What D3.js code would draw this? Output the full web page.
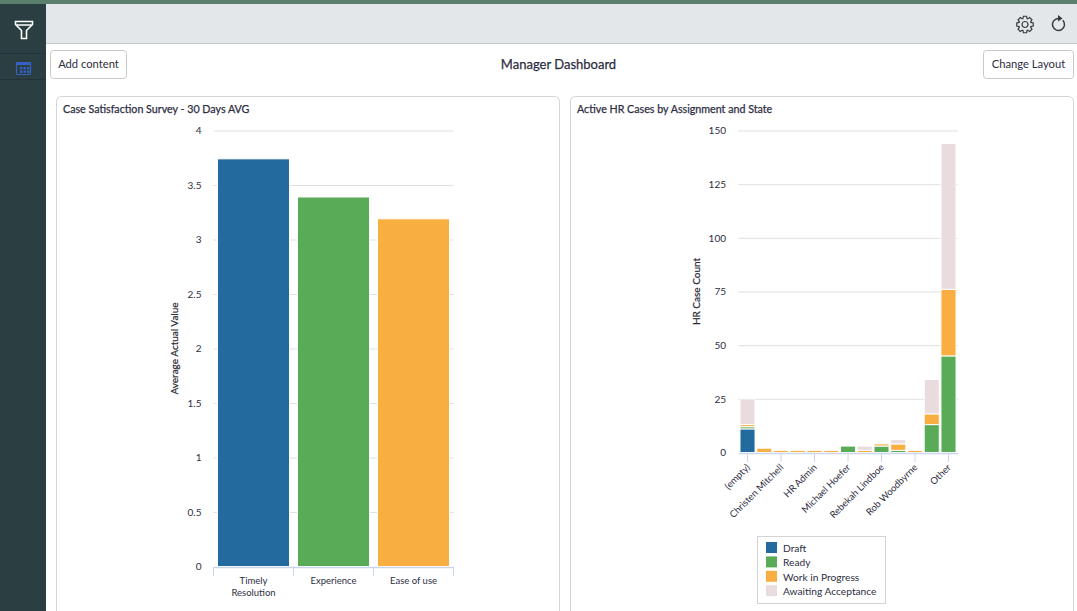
<!DOCTYPE html>
<html>
<head>
<meta charset="utf-8">
<script src="https://cdn.jsdelivr.net/npm/d3@7"></script>
<style>
  html, body { margin: 0; padding: 0; background: #fff; overflow: hidden; }
  text { font-family: Lato, sans-serif; fill: #2e2e42; }
  .axis .domain { stroke: #ccd6eb; }
  .axis line { stroke: #ccd6eb; }
  .grid line { stroke: #e0e0e0; }
  .grid .domain { display: none; }
</style>
</head>
<body>
<div id="chart"></div>
<script>
// Data
const surveyCategories = ["Timely Resolution", "Experience", "Ease of use"];
const surveyValues = [3.74, 3.39, 3.19];
const surveyTicks = [0, 0.5, 1, 1.5, 2, 2.5, 3, 3.5, 4];

const states = ["Draft", "Ready", "Work in Progress", "Awaiting Acceptance"];
const stateColors = ["#236a9e", "#5aab58", "#f9ae42", "#e8dcde"];
// only every other assignee gets a label on the axis
const assignees = ["(empty)", "", "Christen Mitchell", "", "HR Admin", "", "Michael Hoefer", "", "Rebekah Lindboe", "", "Rob Woodbyrne", "", "Other"];
const draftCounts = [11, 0, 0, 0, 0, 0, 0, 0, 0, 0, 0, 0, 0];
const readyCounts = [1, 0, 0, 0, 0, 0, 3, 0, 3, 1, 0, 13, 45];
const progressCounts = [1, 2, 1, 1, 1, 1, 0, 1, 1, 3, 1, 5, 31];
const awaitingCounts = [12, 0, 0, 0, 0, 0, 0, 2, 0, 2, 0, 16, 68];
const caseTicks = [0, 25, 50, 75, 100, 125, 150];

const svg = d3.select("#chart").append("svg").attr("width", 1077).attr("height", 611).style("display", "block");

// Page chrome
const rect = (x, y, w, h, fill, stroke, r) =>
  svg.append("rect").attr("x", x).attr("y", y).attr("width", w).attr("height", h)
    .attr("fill", fill).attr("stroke", stroke || "none").attr("rx", r || 0);

rect(0, 0, 1077, 4, "#5b7f6f");
rect(46, 4, 1031, 39, "#e4e7ea");
rect(46, 43, 1031, 1, "#c8c8c8");
rect(0, 4, 46, 607, "#2b3f42");
rect(0, 53, 46, 1, "#22343a");
rect(0, 79, 46, 1, "#22343a");

const button = (x, w, label) => {
  rect(x + 0.5, 50.5, w, 28, "#fff", "#c8c8c8", 3);
  svg.append("text").attr("x", x + w / 2 + 0.5).attr("y", 68).attr("text-anchor", "middle")
    .attr("font-size", 11.2).text(label);
};
button(50, 76, "Add content");
button(983, 90, "Change Layout");
svg.append("text").attr("x", 558.5).attr("y", 69).attr("text-anchor", "middle")
  .attr("font-size", 13).attr("stroke", "#2e2e42").attr("stroke-width", 0.25).text("Manager Dashboard");

const panel = (x, label) => {
  rect(x + 0.5, 96.5, 503, 540, "#fff", "#d4d4d4", 5);
  svg.append("text").attr("x", x + 7).attr("y", 113).attr("font-size", 10.7)
    .attr("stroke", "#2e2e42").attr("stroke-width", 0.25).text(label);
};
panel(56, "Case Satisfaction Survey - 30 Days AVG");
panel(570, "Active HR Cases by Assignment and State");

// Icons
svg.append("path").attr("d", "M15.5 21.5h17v3l-6 6v8h-5v-8l-6-6z M16 25h16").attr("fill", "none")
  .attr("stroke", "#fff").attr("stroke-width", 1.6);
svg.append("rect").attr("x", 16.5).attr("y", 62.5).attr("width", 14).attr("height", 12).attr("rx", 1)
  .attr("fill", "none").attr("stroke", "#3560c4").attr("stroke-width", 1.2);
rect(16, 62, 15, 3, "#3560c4");
[0, 1, 2].forEach((c) => [0, 1].forEach((r) => rect(20 + c * 3.5, 67 + r * 3.5, 2.4, 2.4, "#3560c4")));
const gear = svg.append("g").attr("transform", "translate(1025,24.5)").attr("fill", "none").attr("stroke", "#333a40").attr("stroke-width", 1.2);
gear.append("circle").attr("r", 3);
gear.append("path").attr("d", d3.range(8).map((i) => {
  const p = (a, r) => [(Math.cos(a) * r).toFixed(2), (Math.sin(a) * r).toFixed(2)].join(",");
  const a = (i * Math.PI) / 4, s = Math.PI / 10;
  return (i ? "L" : "M") + p(a - s * 1.1, 6.2) + "L" + p(a - s * 0.6, 8.4) + "L" + p(a + s * 0.6, 8.4) + "L" + p(a + s * 1.1, 6.2);
}).join("") + "Z");
svg.append("path").attr("d", d3.arc()({ innerRadius: 6, outerRadius: 6, startAngle: 0.8, endAngle: 6.2 }))
  .attr("transform", "translate(1058.5,24.5)").attr("fill", "none").attr("stroke", "#333a40").attr("stroke-width", 1.5);
svg.append("path").attr("d", "M1058 15l4.5 3.5-4.5 3z").attr("fill", "#333a40");

// Shared axis drawing
const drawYAxis = (yScale, ticks, x0, x1, title, titleX, format) => {
  const grid = svg.append("g").attr("class", "grid").attr("transform", `translate(${x0},0)`)
    .call(d3.axisLeft(yScale).tickValues(ticks.filter((d) => d > 0)).tickSize(-(x1 - x0)).tickFormat(""));
  grid.selectAll("line").attr("stroke-width", 1);
  const yAxis = svg.append("g").attr("transform", `translate(${x0 - 12},0)`)
    .call(d3.axisLeft(yScale).tickValues(ticks).tickSize(0).tickPadding(0).tickFormat(format));
  yAxis.select(".domain").remove();
  yAxis.selectAll("text").attr("font-size", 10).style("font-family", "Lato, sans-serif");
  const cy = (yScale.range()[0] + yScale.range()[1]) / 2;
  svg.append("text").attr("transform", `translate(${titleX},${cy}) rotate(-90)`)
    .attr("text-anchor", "middle").attr("font-size", 10).attr("stroke", "#1a1a1a").attr("stroke-width", 0.2).text(title);
};

// Left chart
const surveyY = d3.scaleLinear().domain([0, 4]).range([566.5, 130.5]);
const surveyX = d3.scaleBand().domain(surveyCategories).range([213.5, 453.5]).paddingInner(0.1).paddingOuter(0.05);
drawYAxis(surveyY, surveyTicks, 213.5, 453.5, "Average Actual Value", 178, d3.format("~g"));

svg.append("g").selectAll("rect").data(surveyValues).join("rect")
  .attr("x", (d, i) => surveyX(surveyCategories[i]))
  .attr("y", (d) => surveyY(d))
  .attr("width", surveyX.bandwidth())
  .attr("height", (d) => surveyY(0) - surveyY(d))
  .attr("fill", (d, i) => stateColors[i])
  .attr("stroke", "#fff");

const surveyAxis = svg.append("g").attr("class", "axis").attr("transform", "translate(0,567)")
  .call(d3.axisBottom(surveyX).tickSize(0).tickSizeOuter(0).tickFormat(""));
surveyAxis.select(".domain").attr("stroke-width", 1.5);
// ticks sit on the band edges
surveyAxis.selectAll(".edge").data(d3.range(surveyCategories.length + 1)).join("line")
  .attr("class", "edge")
  .attr("x1", (i) => 213.5 + i * surveyX.step()).attr("x2", (i) => 213.5 + i * surveyX.step())
  .attr("y1", 0).attr("y2", 9);
surveyCategories.forEach((name, i) => {
  const t = svg.append("text").attr("text-anchor", "middle").attr("font-size", 9.5)
    .attr("transform", `translate(${surveyX(name) + surveyX.bandwidth() / 2},584)`);
  (name === "Timely Resolution" ? ["Timely", "Resolution"] : [name]).forEach((line, j) =>
    t.append("tspan").attr("x", 0).attr("dy", j ? 12 : 0).text(line));
});

// Right chart
const caseY = d3.scaleLinear().domain([0, 150]).range([452.5, 130.5]);
const caseX = d3.scaleBand().domain(d3.range(assignees.length)).range([738.3, 957.7]).padding(0.1);
drawYAxis(caseY, caseTicks, 738, 958, "HR Case Count", 700, d3.format("d"));

const caseRows = assignees.map((name, i) => ({
  index: i,
  [states[0]]: draftCounts[i],
  [states[1]]: readyCounts[i],
  [states[2]]: progressCounts[i],
  [states[3]]: awaitingCounts[i],
}));
const stacked = d3.stack().keys(states)(caseRows);

svg.append("g").selectAll("g").data(stacked).join("g")
  .attr("fill", (d, i) => stateColors[i])
  .selectAll("rect").data((d) => d).join("rect")
  .attr("x", (d) => caseX(d.data.index))
  .attr("y", (d) => caseY(d[1]))
  .attr("width", caseX.bandwidth())
  .attr("height", (d) => caseY(d[0]) - caseY(d[1]))
  .attr("stroke", (d) => (d[1] > d[0] ? "#fff" : "none"));

const caseAxis = svg.append("g").attr("class", "axis").attr("transform", "translate(0,453)")
  .call(d3.axisBottom(caseX).tickValues(d3.range(0, assignees.length, 2)).tickSize(9).tickSizeOuter(0).tickFormat((i) => assignees[i]));
caseAxis.select(".domain").attr("stroke-width", 1.5);
caseAxis.selectAll("text")
  .attr("font-size", 9.5).style("font-family", "Lato, sans-serif")
  .attr("text-anchor", "end").attr("dy", 0).attr("y", 0)
  .attr("transform", "translate(3,15) rotate(-45)");

// Legend
rect(757.5, 536.5, 128, 67, "#fff", "#d4d4d4");
const legend = svg.append("g").selectAll("g").data(states).join("g")
  .attr("transform", (d, i) => `translate(766,${542 + i * 14.4})`);
legend.append("rect").attr("width", 11).attr("height", 11).attr("fill", (d, i) => stateColors[i]);
legend.append("text").attr("x", 17).attr("y", 10).attr("font-size", 10.2).text((d) => d);
</script>
</body>
</html>
